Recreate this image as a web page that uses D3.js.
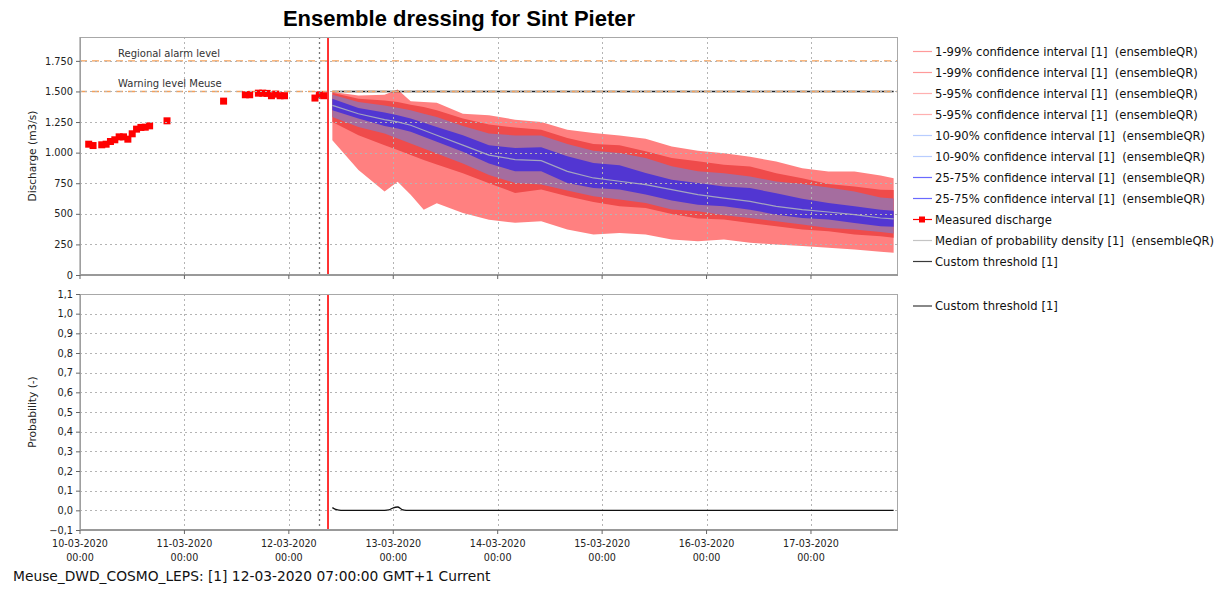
<!DOCTYPE html>
<html><head><meta charset="utf-8">
<script src="https://cdn.jsdelivr.net/npm/d3@7"></script>
<style>
html,body{margin:0;padding:0;background:#fff;}
svg text{font-family:"DejaVu Sans",sans-serif;fill:#222;white-space:pre;}
</style></head>
<body><svg id="chart" width="1224" height="590"></svg>
<script>
// ---------- data ----------
const chartTitle = "Ensemble dressing for Sint Pieter";
const footerText = "Meuse_DWD_COSMO_LEPS: [1] 12-03-2020 07:00:00 GMT+1 Current";
const xDomain = ["2020-03-10T00:00", "2020-03-17T20:00"];
const forecastTime = "2020-03-12T07:00";
const currentTime = "2020-03-12T09:00";

const measuredTimes = ["2020-03-10T02:00","2020-03-10T03:00","2020-03-10T05:00","2020-03-10T06:00","2020-03-10T07:00","2020-03-10T08:00","2020-03-10T09:00","2020-03-10T10:00","2020-03-10T11:00","2020-03-10T12:00","2020-03-10T13:00","2020-03-10T14:00","2020-03-10T15:00","2020-03-10T16:00","2020-03-10T20:00","2020-03-11T09:00","2020-03-11T14:00","2020-03-11T15:00","2020-03-11T17:00","2020-03-11T18:00","2020-03-11T19:00","2020-03-11T20:00","2020-03-11T21:00","2020-03-11T22:00","2020-03-11T23:00","2020-03-12T06:00","2020-03-12T07:00","2020-03-12T08:00"];
const measuredValues = [1069,1058,1064,1069,1091,1105,1129,1129,1110,1154,1192,1206,1208,1219,1260,1421,1473,1473,1486,1486,1484,1465,1478,1465,1465,1446,1473,1465];

const forecastTimes = ["2020-03-12T10:00","2020-03-12T16:00","2020-03-12T22:00","2020-03-13T01:00","2020-03-13T04:00","2020-03-13T07:00","2020-03-13T10:00","2020-03-13T16:00","2020-03-13T22:00","2020-03-14T04:00","2020-03-14T10:00","2020-03-14T16:00","2020-03-14T22:00","2020-03-15T04:00","2020-03-15T10:00","2020-03-15T16:00","2020-03-15T22:00","2020-03-16T04:00","2020-03-16T10:00","2020-03-16T16:00","2020-03-16T22:00","2020-03-17T04:00","2020-03-17T10:00","2020-03-17T16:00","2020-03-17T19:00"];
const q01 = [1102,858,682,763,655,533,587,506,452,426,439,371,331,344,331,290,276,290,263,249,236,222,209,190,182];
const q05 = [1251,1142,1061,1021,980,939,904,831,750,671,698,643,597,562,548,499,461,453,425,398,371,358,331,317,304];
const q10 = [1291,1210,1156,1115,1075,1034,993,912,817,752,739,690,643,616,589,535,521,488,466,439,412,385,371,352,340];
const q25 = [1346,1278,1218,1197,1170,1129,1088,1007,912,847,847,752,711,698,657,608,575,561,534,493,466,453,425,398,395];
const q50 = [1386,1318,1270,1251,1224,1183,1142,1061,980,943,934,847,793,766,739,698,657,629,602,561,534,515,493,466,458];
const q75 = [1440,1365,1327,1305,1278,1245,1210,1142,1061,1038,1043,970,915,896,834,779,752,724,710,669,623,588,561,534,526];
const q90 = [1473,1413,1386,1367,1346,1318,1291,1218,1156,1141,1141,1070,1016,997,956,888,847,832,805,764,743,716,683,634,626];
const q95 = [1489,1440,1427,1413,1392,1373,1346,1278,1229,1206,1187,1119,1070,1060,1011,956,929,900,886,832,791,743,724,696,694];
const q99 = [1495,1467,1473,1516,1419,1413,1408,1318,1305,1269,1250,1187,1160,1141,1114,1051,1016,995,967,927,873,846,846,813,791];

const probTimes = ["2020-03-12T10:00","2020-03-12T11:00","2020-03-12T12:00","2020-03-12T22:00","2020-03-12T23:00","2020-03-13T00:00","2020-03-13T01:00","2020-03-13T02:00","2020-03-13T03:00","2020-03-17T19:00"];
const probValues = [0.014,0.003,0,0,0.002,0.013,0.017,0.004,0,0];

const thresholdNames = ["Regional alarm level","Warning level Meuse"];
const thresholdValues = [1750, 1500];
const customThreshold = 1500;

const dischargeTicks = [0,250,500,750,1000,1250,1500,1750];
const probTicks = [-0.1,0,0.1,0.2,0.3,0.4,0.5,0.6,0.7,0.8,0.9,1.0,1.1];

const legendTop = ["1-99% confidence interval [1]  (ensembleQR)","1-99% confidence interval [1]  (ensembleQR)","5-95% confidence interval [1]  (ensembleQR)","5-95% confidence interval [1]  (ensembleQR)","10-90% confidence interval [1]  (ensembleQR)","10-90% confidence interval [1]  (ensembleQR)","25-75% confidence interval [1]  (ensembleQR)","25-75% confidence interval [1]  (ensembleQR)","Measured discharge","Median of probability density [1]  (ensembleQR)","Custom threshold [1]"];
const legendTopColors = ["#ff9a9a","#ff9a9a","#ffb0b0","#ffb0b0","#b8cdff","#b8cdff","#6a6aff","#6a6aff","#ff0000","#c4c4c4","#3a3a3a"];
const legendBottom = ["Custom threshold [1]"];

// ---------- drawing ----------
const parse = d3.utcParse("%Y-%m-%dT%H:%M");
const svg = d3.select("#chart");
const L = 80, R = 898;
const topT = 37, topB = 275, botT = 294, botB = 530;

const x = d3.scaleUtc().domain(xDomain.map(parse)).range([L, R]);
const yTop = d3.scaleLinear().domain([0, 1945]).range([topB, topT]);
const yBot = d3.scaleLinear().domain([-0.1, 1.1]).range([botB, botT]);
const nlLocale = d3.formatLocale({decimal: ",", thousands: ".", grouping: [3], currency: ["", ""]});
const fmtTop = nlLocale.format(",");
const fmtBot = nlLocale.format(".1f");
const dayTicks = d3.utcDay.range(parse("2020-03-10T00:00"), parse("2020-03-17T20:00"));

svg.append("rect").attr("x",0).attr("y",0).attr("width",1224).attr("height",590).attr("fill","#fff");

// title
svg.append("text").attr("x", 459).attr("y", 26).attr("text-anchor","middle")
  .style("font-family","'Liberation Sans',Arial,sans-serif").style("font-weight","bold").style("font-size","22px")
  .style("fill","#000").text(chartTitle);

// clip paths
const defs = svg.append("defs");
defs.append("clipPath").attr("id","clipTop").append("rect").attr("x",L).attr("y",topT).attr("width",R-L).attr("height",topB-topT);
defs.append("clipPath").attr("id","clipBot").append("rect").attr("x",L).attr("y",botT).attr("width",R-L).attr("height",botB-botT);

// ---- top plot: bands ----
const fc = forecastTimes.map((t,i)=>({t:parse(t),q01:q01[i],q05:q05[i],q10:q10[i],q25:q25[i],q50:q50[i],q75:q75[i],q90:q90[i],q95:q95[i],q99:q99[i]}));
const gTop = svg.append("g").attr("clip-path","url(#clipTop)");
const bands = [["q01","q99","#ff8080"],["q05","q95","#ef4b4b"],["q10","q90","#a56d9f"],["q25","q75","#5236d2"]];
bands.forEach(([lo,hi,col])=>{
  gTop.append("path").datum(fc)
    .attr("d", d3.area().x(d=>x(d.t)).y0(d=>yTop(d[lo])).y1(d=>yTop(d[hi])))
    .attr("fill", col);
});
gTop.append("path").datum(fc)
  .attr("d", d3.line().x(d=>x(d.t)).y(d=>yTop(d.q50)))
  .attr("fill","none").attr("stroke","#a4a4bf").attr("stroke-width",1.2);

// grid
function grid(g, yScale, ticks, yT, yB){
  ticks.forEach(v=>{
    const yy = Math.round(yScale(v))+0.5;
    if (yy < yB-1 && yy > yT+1)
      g.append("line").attr("x1",L).attr("x2",R).attr("y1",yy).attr("y2",yy)
        .attr("stroke","#b4b4b4").attr("stroke-dasharray","2,3");
  });
  dayTicks.forEach(d=>{
    const xx = Math.round(x(d))+0.5;
    if (xx > L+1)
      g.append("line").attr("x1",xx).attr("x2",xx).attr("y1",yT).attr("y2",yB)
        .attr("stroke","#b4b4b4").attr("stroke-dasharray","2,3");
  });
}
grid(svg.append("g"), yTop, dischargeTicks, topT, topB);
grid(svg.append("g"), yBot, probTicks, botT, botB);

// custom threshold (black) under orange dashed levels
const fcStart = parse(forecastTimes[0]), fcEnd = parse(forecastTimes[forecastTimes.length-1]);
gTop.append("line").attr("x1",x(fcStart)).attr("x2",x(fcEnd))
  .attr("y1",yTop(customThreshold)).attr("y2",yTop(customThreshold))
  .attr("stroke","#222").attr("stroke-width",1.4);
thresholdValues.forEach((v,i)=>{
  gTop.append("line").attr("x1",L).attr("x2",R).attr("y1",yTop(v)).attr("y2",yTop(v))
    .attr("stroke","#f4a05a").attr("stroke-width",1.4).attr("stroke-dasharray","7,5");
  svg.append("text").attr("x",118).attr("y",yTop(v)-4).style("font-size","10px").style("fill","#333").text(thresholdNames[i]);
});

// measured discharge
gTop.selectAll("rect.meas").data(measuredTimes.map((t,i)=>({t:parse(t),v:measuredValues[i]})))
  .enter().append("rect").attr("class","meas")
  .attr("x",d=>x(d.t)-3.5).attr("y",d=>yTop(d.v)-3.5).attr("width",7).attr("height",7)
  .attr("fill","#ff0000");

// ---- bottom plot: probability ----
const gBot = svg.append("g").attr("clip-path","url(#clipBot)");
gBot.append("path").datum(probTimes.map((t,i)=>({t:parse(t),v:probValues[i]})))
  .attr("d", d3.line().x(d=>x(d.t)).y(d=>yBot(d.v)).curve(d3.curveMonotoneX))
  .attr("fill","none").attr("stroke","#111").attr("stroke-width",1.3);

// vertical marker lines
[[topT,topB],[botT,botB]].forEach(([a,b])=>{
  const xf = Math.round(x(parse(forecastTime)))+0.5;
  svg.append("line").attr("x1",xf).attr("x2",xf).attr("y1",a).attr("y2",b)
    .attr("stroke","#777").attr("stroke-width",1.3).attr("stroke-dasharray","2,3");
  const xc = x(parse(currentTime));
  svg.append("line").attr("x1",xc).attr("x2",xc).attr("y1",a).attr("y2",b)
    .attr("stroke","#ff0000").attr("stroke-width",1.6);
});

// frames and axes
function frame(yT, yB){
  svg.append("rect").attr("x",L+0.5).attr("y",yT+0.5).attr("width",R-L-1).attr("height",yB-yT-1)
    .attr("fill","none").attr("stroke","#a8a8a8").attr("stroke-width",1);
  svg.append("line").attr("x1",L).attr("x2",R).attr("y1",yB).attr("y2",yB).attr("stroke","#999").attr("stroke-width",2);
  svg.append("line").attr("x1",L).attr("x2",L).attr("y1",yT).attr("y2",yB).attr("stroke","#999").attr("stroke-width",1.2);
}
frame(topT, topB);
frame(botT, botB);

// y axes
const yAxTop = svg.append("g").attr("transform",`translate(${L},0)`)
  .call(d3.axisLeft(yTop).tickValues(dischargeTicks).tickFormat(fmtTop).tickSize(4).tickPadding(3));
const yAxBot = svg.append("g").attr("transform",`translate(${L},0)`)
  .call(d3.axisLeft(yBot).tickValues(probTicks).tickFormat(fmtBot).tickSize(4).tickPadding(3));
[yAxTop,yAxBot].forEach(a=>{
  a.select(".domain").remove();
  a.selectAll(".tick line").attr("stroke","#666");
  a.selectAll(".tick text").style("font-family","'DejaVu Sans',sans-serif").style("font-size","9.8px").attr("fill","#222");
});

// x axes ticks
[topB, botB].forEach(yy=>{
  dayTicks.forEach(d=>{
    svg.append("line").attr("x1",x(d)).attr("x2",x(d)).attr("y1",yy).attr("y2",yy+4).attr("stroke","#666");
  });
});
const fDate = d3.utcFormat("%d-%m-%Y"), fTime = d3.utcFormat("%H:%M");
dayTicks.forEach(d=>{
  const t = svg.append("text").attr("x",x(d)).attr("text-anchor","middle").style("font-size","9.6px");
  t.append("tspan").attr("x",x(d)).attr("y",547).text(fDate(d));
  t.append("tspan").attr("x",x(d)).attr("y",561).text(fTime(d));
});

// axis titles
svg.append("text").attr("transform",`translate(36,${(topT+topB)/2}) rotate(-90)`).attr("text-anchor","middle")
  .style("font-size","10.6px").text("Discharge (m3/s)");
svg.append("text").attr("transform",`translate(36,${(botT+botB)/2}) rotate(-90)`).attr("text-anchor","middle")
  .style("font-size","10.6px").text("Probability (-)");

// legends
function legendRow(yc, label, color, isMarker){
  svg.append("line").attr("x1",913).attr("x2",932).attr("y1",yc).attr("y2",yc).attr("stroke",color).attr("stroke-width",1.2);
  if (isMarker) svg.append("rect").attr("x",919).attr("y",yc-3).attr("width",6).attr("height",6).attr("fill",color);
  svg.append("text").attr("x",935).attr("y",yc+4).attr("xml:space","preserve").style("white-space","pre")
    .style("font-size","11.6px").style("fill","#111").text(label);
}
legendTop.forEach((lab,i)=>legendRow(51.5 + i*21, lab, legendTopColors[i], lab === "Measured discharge"));
legendBottom.forEach((lab,i)=>legendRow(306 + i*21, lab, "#3a3a3a", false));

// footer
svg.append("text").attr("x",13).attr("y",581).style("font-size","13.8px").style("fill","#111").text(footerText);
</script>
</body></html>
